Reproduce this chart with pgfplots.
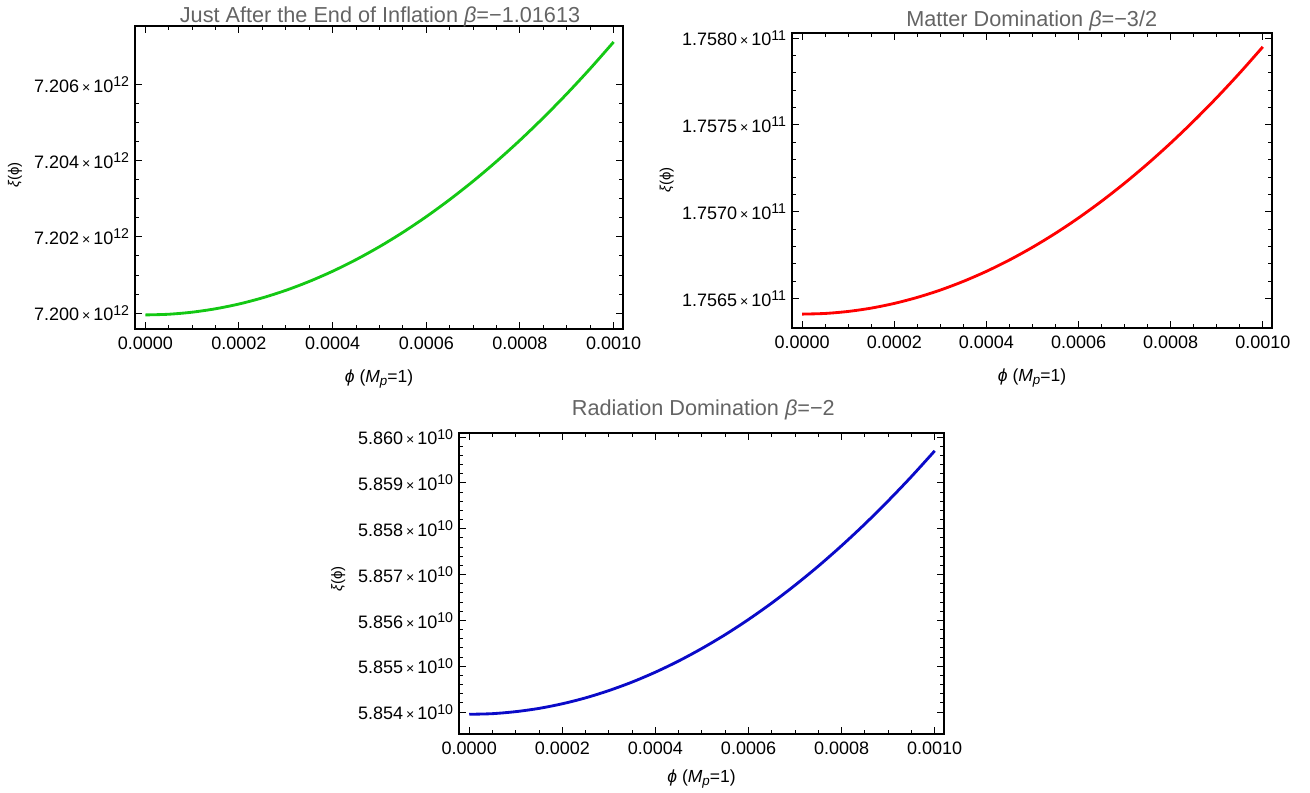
\documentclass[border=0pt]{standalone}
\usepackage{fontspec}
\setmainfont{Liberation Sans}
\usepackage{pgfplots}
\pgfplotsset{compat=1.18}
\definecolor{mgreen}{RGB}{20,200,20}
\definecolor{mred}{RGB}{255,0,0}
\definecolor{mblue}{RGB}{10,10,200}
\definecolor{tgray}{RGB}{100,100,100}
\newcommand{\tl}[2]{#1\,{\fontsize{8.5}{9}\selectfont×}\,10\raisebox{0.6ex}{\fontsize{8.5}{9}\selectfont #2}}
\newcommand{\xlab}{\textit{ϕ} (\textit{M}\raisebox{-0.35ex}{\fontsize{8}{9}\selectfont\textit{p}}=1)}
\newcommand{\ylab}{\textit{ξ}(ϕ)}

\pgfplotsset{
  mframe/.style={
    scale only axis,
    axis line style={black, line width=0.9pt},
    tick align=inside, tick pos=both,
    major tick length=4.2pt, minor tick length=2.4pt,
    every tick/.style={black, line width=0.6pt},
    tick label style={font=\fontsize{10.8}{12}\selectfont},
    xticklabel style={yshift=-1.5pt},
    xtick={0,2,4,6,8,10},
    xticklabels={0.0000,0.0002,0.0004,0.0006,0.0008,0.0010},
    minor x tick num=3,
    scaled ticks=false,
    xmin=-0.22, xmax=10.2,
    xlabel={\xlab},
    xlabel style={at={(axis description cs:0.5,0)}, anchor=north, yshift=-21pt, font=\fontsize{10.5}{12}\selectfont},
  },
  curve/.style={line width=1.7pt, smooth},
}

\begin{document}
\begin{tikzpicture}
\useasboundingbox (0,0) rectangle (786pt,475.8pt);

% top left
\begin{axis}[mframe, at={(81pt,278.4pt)}, anchor=south west,
  width=292.8pt, height=181.8pt,
  ymin=-0.42, ymax=7.55,
  ytick={0,2,4,6}, minor y tick num=3,
  yticklabels={\tl{7.200}{12},\tl{7.202}{12},\tl{7.204}{12},\tl{7.206}{12}}]
\addplot[mgreen, curve] coordinates {
(0,-0.05) (0.5,-0.032) (1,0.022) (1.5,0.112) (2,0.237) (2.5,0.399)
(3,0.596) (3.5,0.830) (4,1.099) (4.5,1.404) (5,1.745) (5.5,2.122)
(6,2.535) (6.5,2.984) (7,3.468) (7.5,3.989) (8,4.545) (8.5,5.138)
(9,5.766) (9.5,6.430) (10,7.130)
};
\end{axis}

% top right
\begin{axis}[mframe, at={(475.2pt,279pt)}, anchor=south west,
  width=288pt, height=177pt,
  ymin=-1.7, ymax=15.3,
  ytick={0,5,10,15}, minor y tick num=4,
  yticklabels={\tl{1.7565}{11},\tl{1.7570}{11},\tl{1.7575}{11},\tl{1.7580}{11}}]
\addplot[mred, curve] coordinates {
(0,-0.9) (0.5,-0.862) (1,-0.746) (1.5,-0.554) (2,-0.284) (2.5,0.063)
(3,0.486) (3.5,0.987) (4,1.564) (4.5,2.219) (5,2.95) (5.5,3.759)
(6,4.644) (6.5,5.607) (7,6.646) (7.5,7.763) (8,8.956) (8.5,10.227)
(9,11.574) (9.5,12.999) (10,14.5)
};
\end{axis}

% bottom
\begin{axis}[mframe, at={(275.4pt,35.4pt)}, anchor=south west,
  width=291pt, height=180.6pt,
  ymin=-0.48, ymax=6.09,
  ytick={0,1,2,3,4,5,6}, minor y tick num=4,
  xlabel style={yshift=3pt},
  yticklabels={\tl{5.854}{10},\tl{5.855}{10},\tl{5.856}{10},\tl{5.857}{10},\tl{5.858}{10},\tl{5.859}{10},\tl{5.860}{10}}]
\addplot[mblue, curve] coordinates {
(0,-0.05) (0.5,-0.036) (1,0.008) (1.5,0.079) (2,0.18) (2.5,0.309)
(3,0.468) (3.5,0.654) (4,0.870) (4.5,1.114) (5,1.388) (5.5,1.689)
(6,2.02) (6.5,2.379) (7,2.768) (7.5,3.184) (8,3.63) (8.5,4.104)
(9,4.608) (9.5,5.139) (10,5.70)
};
\end{axis}

% titles
\node[text=tgray, font=\fontsize{13}{15}\selectfont] at (228pt,465.6pt)
  {Just After the End of Inflation \textit{β}=−1.01613};
\node[text=tgray, font=\fontsize{13}{15}\selectfont] at (619pt,463pt)
  {Matter Domination \textit{β}=−3/2};
\node[text=tgray, font=\fontsize{13}{15}\selectfont] at (422pt,229.8pt)
  {Radiation Domination \textit{β}=−2};

% y labels
\node[rotate=90, font=\fontsize{9}{10}\selectfont] at (9pt,370.8pt) {\ylab};
\node[rotate=90, font=\fontsize{9}{10}\selectfont] at (400pt,367.8pt) {\ylab};
\node[rotate=90, font=\fontsize{9}{10}\selectfont] at (203pt,128.4pt) {\ylab};
\end{tikzpicture}
\end{document}
